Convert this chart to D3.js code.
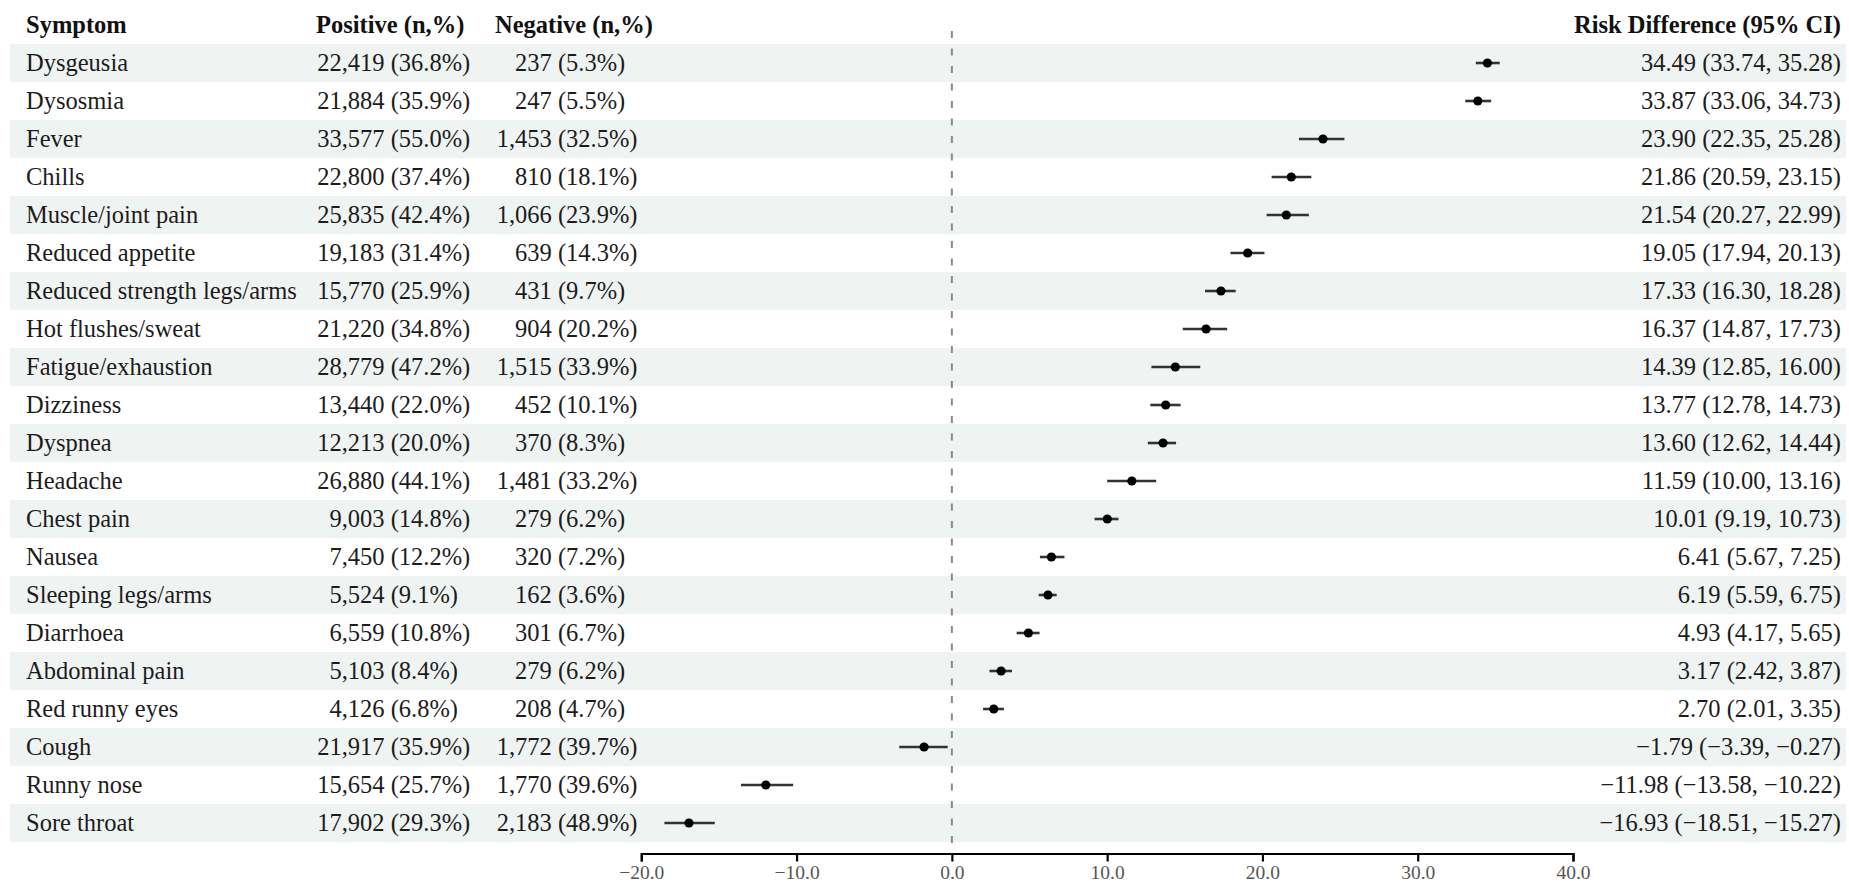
<!DOCTYPE html>
<html>
<head>
<meta charset="utf-8">
<script src="https://cdn.jsdelivr.net/npm/d3@7"></script>
<style>
  html, body { margin: 0; padding: 0; background: #fff; }
  svg { display: block; }
  text { font-family: "Liberation Serif", "Times New Roman", serif; }
</style>
</head>
<body>
<svg id="chart" width="1849" height="883"></svg>
<script>
const symptoms = ["Dysgeusia","Dysosmia","Fever","Chills","Muscle/joint pain","Reduced appetite",
  "Reduced strength legs/arms","Hot flushes/sweat","Fatigue/exhaustion","Dizziness","Dyspnea",
  "Headache","Chest pain","Nausea","Sleeping legs/arms","Diarrhoea","Abdominal pain",
  "Red runny eyes","Cough","Runny nose","Sore throat"];
const posN   = [22419,21884,33577,22800,25835,19183,15770,21220,28779,13440,12213,26880,9003,7450,5524,6559,5103,4126,21917,15654,17902];
const posPct = [36.8,35.9,55.0,37.4,42.4,31.4,25.9,34.8,47.2,22.0,20.0,44.1,14.8,12.2,9.1,10.8,8.4,6.8,35.9,25.7,29.3];
const negN   = [237,247,1453,810,1066,639,431,904,1515,452,370,1481,279,320,162,301,279,208,1772,1770,2183];
const negPct = [5.3,5.5,32.5,18.1,23.9,14.3,9.7,20.2,33.9,10.1,8.3,33.2,6.2,7.2,3.6,6.7,6.2,4.7,39.7,39.6,48.9];
const rd     = [34.49,33.87,23.90,21.86,21.54,19.05,17.33,16.37,14.39,13.77,13.60,11.59,10.01,6.41,6.19,4.93,3.17,2.70,-1.79,-11.98,-16.93];
const ciLow  = [33.74,33.06,22.35,20.59,20.27,17.94,16.30,14.87,12.85,12.78,12.62,10.00,9.19,5.67,5.59,4.17,2.42,2.01,-3.39,-13.58,-18.51];
const ciHigh = [35.28,34.73,25.28,23.15,22.99,20.13,18.28,17.73,16.00,14.73,14.44,13.16,10.73,7.25,6.75,5.65,3.87,3.35,-0.27,-10.22,-15.27];
const headers = ["Symptom","Positive (n,%)","Negative (n,%)","Risk Difference (95% CI)"];
const xTicks = [-20,-10,0,10,20,30,40];

const svg = d3.select("#chart");
const FS = 24.5;
const rowTop = 44, rowH = 38;
const y = d3.scaleBand().domain(symptoms).range([rowTop, rowTop + rowH * symptoms.length]).padding(0);
const x = d3.scaleLinear().domain([-20, 40]).range([641.3, 1573]);
const cy = s => y(s) + y.bandwidth() / 2;
const headerCy = rowTop - rowH / 2;
const baseOff = 8;

const col = { symptom: 26, posHead: 316, posNumEnd: 384.5, negHead: 495, negNumEnd: 551.8, ciEnd: 1841 };

const rows = symptoms.map((s, i) => ({ s, i, pn: posN[i], pp: posPct[i], nn: negN[i], np: negPct[i], rd: rd[i], lo: ciLow[i], hi: ciHigh[i] }));

// row backgrounds
svg.append("g").selectAll("rect").data(rows.filter(d => d.i % 2 === 0)).join("rect")
  .attr("x", 10).attr("width", 1836)
  .attr("y", d => y(d.s)).attr("height", y.bandwidth())
  .attr("fill", "#eff3f2");

// reference line
svg.append("line")
  .attr("x1", x(0)).attr("x2", x(0))
  .attr("y1", 31).attr("y2", rowTop + rowH * symptoms.length + 11)
  .attr("stroke", "#8a8a8a").attr("stroke-width", 2)
  .attr("stroke-dasharray", "7,10.5");

// headers
const hg = svg.append("g").attr("font-weight", "bold").attr("font-size", FS).attr("fill", "#111");
hg.append("text").attr("x", col.symptom).attr("y", headerCy + baseOff).text(headers[0]);
hg.append("text").attr("x", col.posHead).attr("y", headerCy + baseOff).text(headers[1]);
hg.append("text").attr("x", col.negHead).attr("y", headerCy + baseOff).text(headers[2]);
hg.append("text").attr("x", col.ciEnd).attr("y", headerCy + baseOff).attr("text-anchor", "end").text(headers[3]);

const fmtN = d3.format(",");
const fmt1 = d3.format(".1f");
const fmt2 = d3.format(".2f");

const tg = svg.append("g").attr("font-size", FS).attr("fill", "#1c1c1c");
const rg = tg.selectAll("g").data(rows).join("g");
rg.append("text").attr("x", col.symptom).attr("y", d => cy(d.s) + baseOff).text(d => d.s);
rg.append("text").attr("x", col.posNumEnd).attr("y", d => cy(d.s) + baseOff).attr("text-anchor", "end").text(d => fmtN(d.pn));
rg.append("text").attr("x", col.posNumEnd + FS * 0.25).attr("y", d => cy(d.s) + baseOff).text(d => "(" + fmt1(d.pp) + "%)");
rg.append("text").attr("x", col.negNumEnd).attr("y", d => cy(d.s) + baseOff).attr("text-anchor", "end").text(d => fmtN(d.nn));
rg.append("text").attr("x", col.negNumEnd + FS * 0.25).attr("y", d => cy(d.s) + baseOff).text(d => "(" + fmt1(d.np) + "%)");
rg.append("text").attr("x", col.ciEnd).attr("y", d => cy(d.s) + baseOff).attr("text-anchor", "end")
  .text(d => fmt2(d.rd) + " (" + fmt2(d.lo) + ", " + fmt2(d.hi) + ")");

// CIs and points
const mg = svg.append("g");
mg.selectAll("line").data(rows).join("line")
  .attr("x1", d => x(d.lo)).attr("x2", d => x(d.hi))
  .attr("y1", d => cy(d.s)).attr("y2", d => cy(d.s))
  .attr("stroke", "#333").attr("stroke-width", 2.6);
mg.selectAll("circle").data(rows).join("circle")
  .attr("cx", d => x(d.rd)).attr("cy", d => cy(d.s)).attr("r", 4.6)
  .attr("fill", "#000");

// axis
const axisY = rowTop + rowH * symptoms.length + 11.5;
const ax = svg.append("g").attr("transform", `translate(0,${axisY})`)
  .call(d3.axisBottom(x).tickValues(xTicks).tickFormat(d3.format(".1f")).tickSize(8).tickSizeOuter(8).tickPadding(3.5));
ax.select(".domain").attr("stroke", "#000").attr("stroke-width", 2.2);
ax.selectAll(".tick line").attr("stroke", "#000").attr("stroke-width", 2.2);
ax.selectAll(".tick text").attr("font-size", 19.5).attr("fill", "#555")
  .attr("font-family", "Liberation Serif, serif");
</script>
</body>
</html>
